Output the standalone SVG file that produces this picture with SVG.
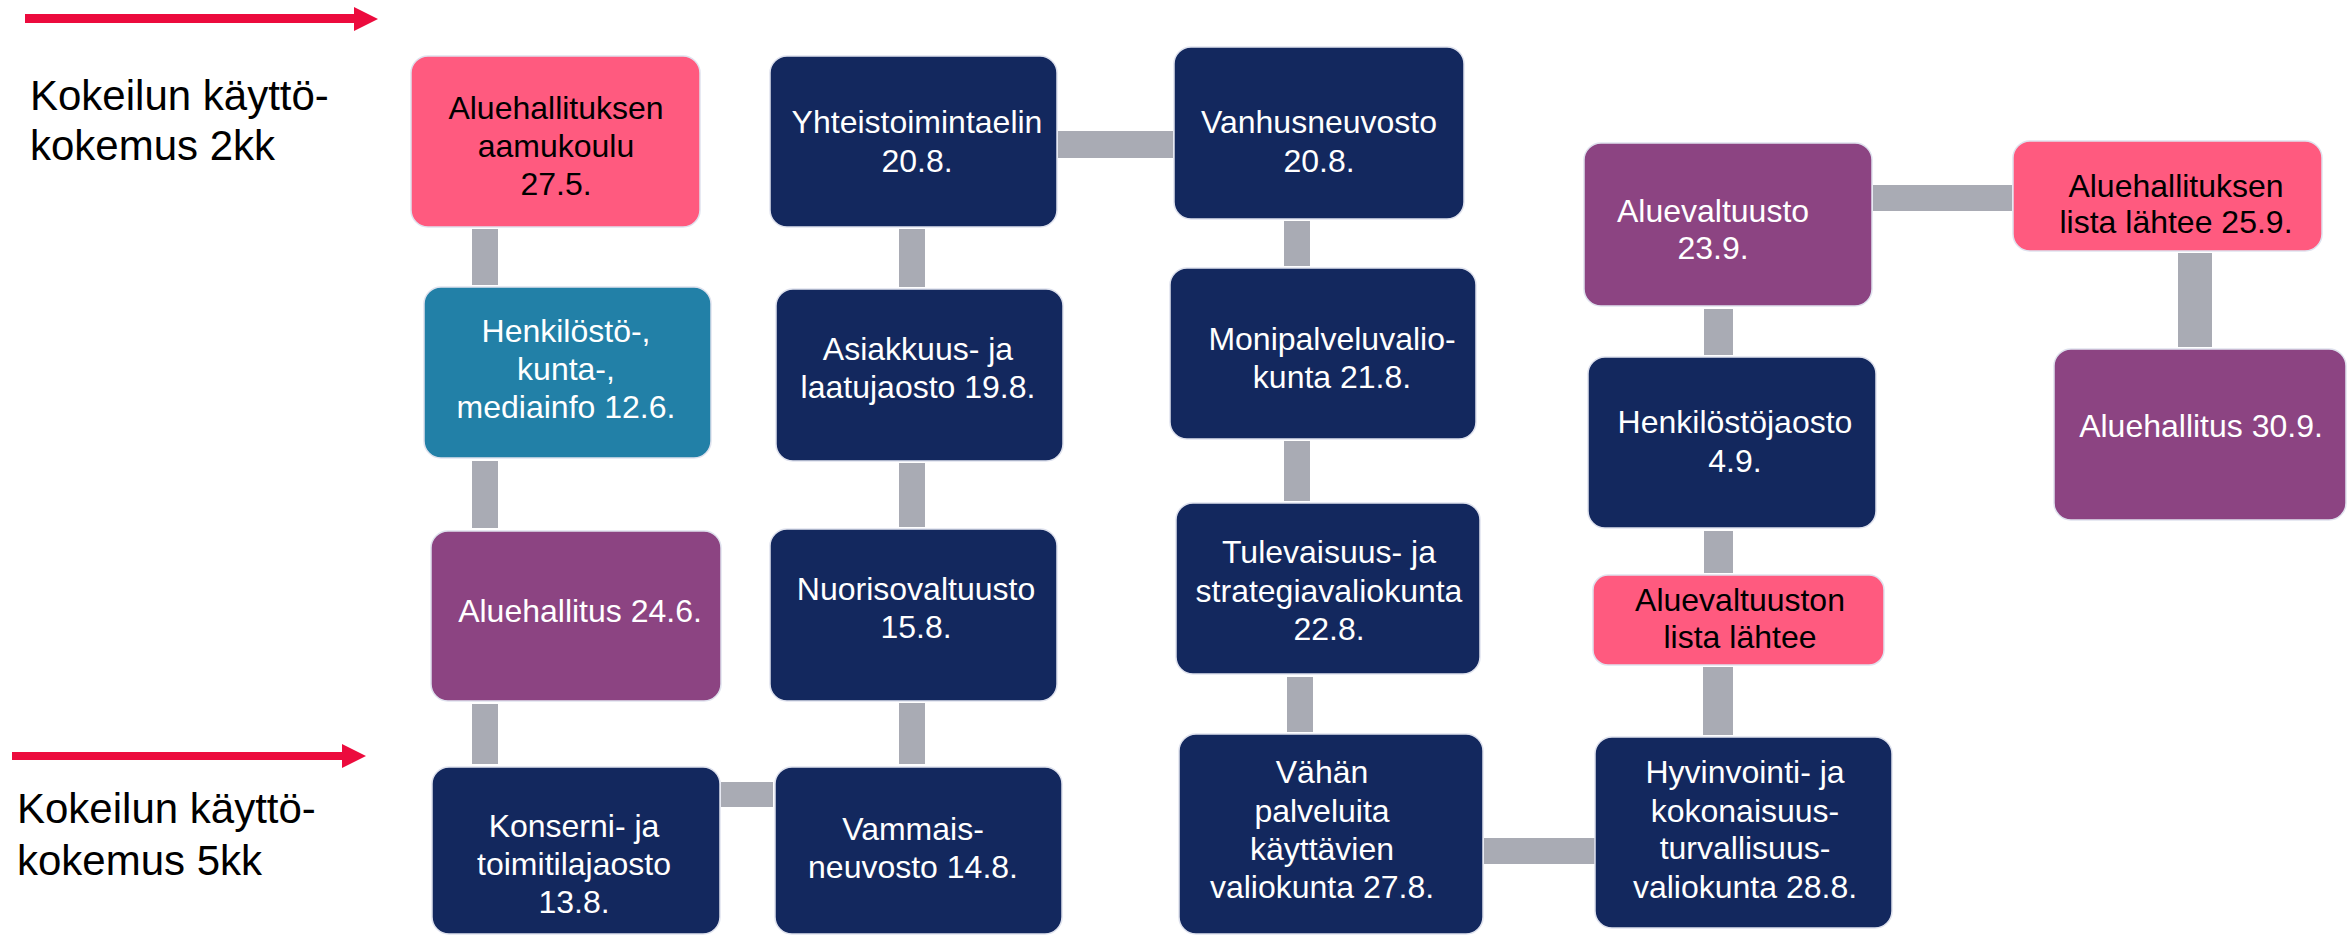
<svg xmlns="http://www.w3.org/2000/svg" width="2348" height="937" viewBox="0 0 2348 937">
<style>
.box{stroke:#dfe2ee;stroke-width:1.5}
.navy{fill:#13285e}
.pink{fill:#ff5a7f}
.purple{fill:#8c4482}
.teal{fill:#2280a7}
.con{fill:#a9abb4}
text{font-family:"Liberation Sans",Arial,sans-serif;font-size:32px;text-anchor:middle}
.w{fill:#ffffff}
.b{fill:#000000}
.side{font-size:42px;text-anchor:start;fill:#000000}
.arrow{fill:#ec0b3d}
</style>
<rect width="2348" height="937" fill="#ffffff"/>

<g id="annotations">
  <path class="arrow" d="M25,14 H354 V7 L378,19 L354,31 V23 H25 Z"/>
  <path class="arrow" d="M12,752 H342 V744 L366,756 L342,768 V760 H12 Z"/>
  <text class="side" x="30" y="110">Kokeilun käyttö-</text>
  <text class="side" x="30" y="160">kokemus 2kk</text>
  <text class="side" x="17" y="823">Kokeilun käyttö-</text>
  <text class="side" x="17" y="875">kokemus 5kk</text>
</g>

<g id="connectors">
  <rect class="con" x="472" y="229" width="26" height="56"/>
  <rect class="con" x="472" y="461" width="26" height="67"/>
  <rect class="con" x="472" y="704" width="26" height="60"/>
  <rect class="con" x="721" y="782" width="52" height="25"/>
  <rect class="con" x="899" y="229" width="26" height="58"/>
  <rect class="con" x="899" y="463" width="26" height="64"/>
  <rect class="con" x="899" y="703" width="26" height="61"/>
  <rect class="con" x="1058" y="131" width="115" height="27"/>
  <rect class="con" x="1284" y="221" width="26" height="45"/>
  <rect class="con" x="1284" y="441" width="26" height="60"/>
  <rect class="con" x="1287" y="677" width="26" height="55"/>
  <rect class="con" x="1484" y="838" width="111" height="26"/>
  <rect class="con" x="1704" y="309" width="29" height="46"/>
  <rect class="con" x="1704" y="531" width="29" height="42"/>
  <rect class="con" x="1703" y="667" width="30" height="68"/>
  <rect class="con" x="1873" y="185" width="139" height="26"/>
  <rect class="con" x="2178" y="253" width="34" height="94"/>
</g>

<g id="n-aamukoulu">
  <rect class="box pink" x="411" y="56" width="289" height="171" rx="17"/>
  <text class="b" x="556" y="119">Aluehallituksen</text>
  <text class="b" x="556" y="157">aamukoulu</text>
  <text class="b" x="556" y="195">27.5.</text>
</g>
<g id="n-mediainfo">
  <rect class="box teal" x="424" y="287" width="287" height="171" rx="17"/>
  <text class="w" x="566" y="342">Henkilöstö-,</text>
  <text class="w" x="566" y="380">kunta-,</text>
  <text class="w" x="566" y="418">mediainfo 12.6.</text>
</g>
<g id="n-aluehallitus-246">
  <rect class="box purple" x="431" y="531" width="290" height="170" rx="17"/>
  <text class="w" x="580" y="622">Aluehallitus 24.6.</text>
</g>
<g id="n-konserni">
  <rect class="box navy" x="432" y="767" width="288" height="167" rx="17"/>
  <text class="w" x="574" y="837">Konserni- ja</text>
  <text class="w" x="574" y="875">toimitilajaosto</text>
  <text class="w" x="574" y="913">13.8.</text>
</g>

<g id="n-yhteistoimintaelin">
  <rect class="box navy" x="770" y="56" width="287" height="171" rx="17"/>
  <text class="w" x="917" y="133">Yhteistoimintaelin</text>
  <text class="w" x="917" y="172">20.8.</text>
</g>
<g id="n-asiakkuus">
  <rect class="box navy" x="776" y="289" width="287" height="172" rx="17"/>
  <text class="w" x="918" y="360">Asiakkuus- ja</text>
  <text class="w" x="918" y="398">laatujaosto 19.8.</text>
</g>
<g id="n-nuorisovaltuusto">
  <rect class="box navy" x="770" y="529" width="287" height="172" rx="17"/>
  <text class="w" x="916" y="600">Nuorisovaltuusto</text>
  <text class="w" x="916" y="638">15.8.</text>
</g>
<g id="n-vammaisneuvosto">
  <rect class="box navy" x="775" y="767" width="287" height="167" rx="17"/>
  <text class="w" x="913" y="840">Vammais-</text>
  <text class="w" x="913" y="878">neuvosto 14.8.</text>
</g>

<g id="n-vanhusneuvosto">
  <rect class="box navy" x="1174" y="47" width="290" height="172" rx="17"/>
  <text class="w" x="1319" y="133">Vanhusneuvosto</text>
  <text class="w" x="1319" y="172">20.8.</text>
</g>
<g id="n-monipalvelu">
  <rect class="box navy" x="1170" y="268" width="306" height="171" rx="17"/>
  <text class="w" x="1332" y="350">Monipalveluvalio-</text>
  <text class="w" x="1332" y="388">kunta 21.8.</text>
</g>
<g id="n-tulevaisuus">
  <rect class="box navy" x="1176" y="503" width="304" height="171" rx="17"/>
  <text class="w" x="1329" y="563">Tulevaisuus- ja</text>
  <text class="w" x="1329" y="602">strategiavaliokunta</text>
  <text class="w" x="1329" y="640">22.8.</text>
</g>
<g id="n-vahan-palveluita">
  <rect class="box navy" x="1179" y="734" width="304" height="200" rx="17"/>
  <text class="w" x="1322" y="783">Vähän</text>
  <text class="w" x="1322" y="822">palveluita</text>
  <text class="w" x="1322" y="860">käyttävien</text>
  <text class="w" x="1322" y="898">valiokunta 27.8.</text>
</g>

<g id="n-aluevaltuusto">
  <rect class="box purple" x="1584" y="143" width="288" height="163" rx="17"/>
  <text class="w" x="1713" y="222">Aluevaltuusto</text>
  <text class="w" x="1713" y="259">23.9.</text>
</g>
<g id="n-henkilostojaosto">
  <rect class="box navy" x="1588" y="357" width="288" height="171" rx="17"/>
  <text class="w" x="1735" y="433">Henkilöstöjaosto</text>
  <text class="w" x="1735" y="472">4.9.</text>
</g>
<g id="n-aluevaltuuston-lista">
  <rect class="box pink" x="1593" y="575" width="291" height="90" rx="15"/>
  <text class="b" x="1740" y="611">Aluevaltuuston</text>
  <text class="b" x="1740" y="648">lista lähtee</text>
</g>
<g id="n-hyvinvointi">
  <rect class="box navy" x="1595" y="737" width="297" height="191" rx="17"/>
  <text class="w" x="1745" y="783">Hyvinvointi- ja</text>
  <text class="w" x="1745" y="822">kokonaisuus-</text>
  <text class="w" x="1745" y="859">turvallisuus-</text>
  <text class="w" x="1745" y="898">valiokunta 28.8.</text>
</g>

<g id="n-aluehallituksen-lista">
  <rect class="box pink" x="2013" y="141" width="309" height="110" rx="17"/>
  <text class="b" x="2176" y="197">Aluehallituksen</text>
  <text class="b" x="2176" y="233">lista lähtee 25.9.</text>
</g>
<g id="n-aluehallitus-309">
  <rect class="box purple" x="2054" y="349" width="292" height="171" rx="17"/>
  <text class="w" x="2201" y="437">Aluehallitus 30.9.</text>
</g>
</svg>
